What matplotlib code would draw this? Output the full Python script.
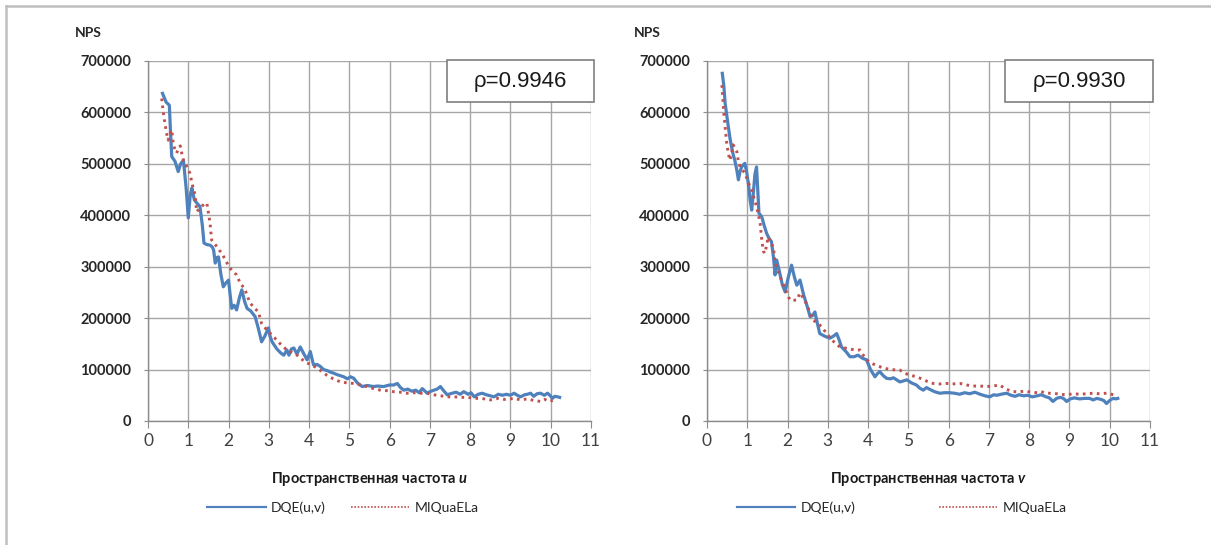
import matplotlib
matplotlib.use("Agg")
import matplotlib.pyplot as plt
from matplotlib.lines import Line2D
from matplotlib.patches import Rectangle

plt.rcParams['font.family'] = ['Lato', 'DejaVu Sans']
plt.rcParams['mathtext.fontset'] = 'custom'
plt.rcParams['mathtext.it'] = 'Lato:italic:bold'
plt.rcParams['mathtext.rm'] = 'Lato:bold'

# ---------------- data (values in thousands) ----------------
u_dqe_x = [0.36, 0.45, 0.53, 0.56, 0.59, 0.67, 0.75, 0.81, 0.88, 0.95, 1.0, 1.05, 1.09, 1.15, 1.21,
           1.29, 1.35, 1.39, 1.46, 1.54, 1.6, 1.63, 1.67, 1.71, 1.75, 1.81, 1.87, 1.93, 2.0, 2.04,
           2.08, 2.14, 2.2, 2.27, 2.33, 2.4, 2.46, 2.55, 2.66, 2.74, 2.82, 2.9, 2.99, 3.03, 3.08,
           3.2, 3.3, 3.37, 3.45, 3.5, 3.56, 3.62, 3.7, 3.78, 3.86, 3.95, 4.03, 4.11, 4.2, 4.28,
           4.36, 4.45, 4.53, 4.61, 4.7, 4.78, 4.86, 4.95, 5.03, 5.11, 5.2, 5.32, 5.45, 5.6, 5.7,
           5.85, 6.0, 6.1, 6.19, 6.27, 6.35, 6.45, 6.55, 6.65, 6.73, 6.81, 6.88, 6.93, 7.0, 7.1,
           7.18, 7.26, 7.35, 7.43, 7.55, 7.65, 7.75, 7.84, 7.95, 8.02, 8.1, 8.2, 8.3, 8.4, 8.5,
           8.59, 8.7, 8.8, 8.9, 9.0, 9.09, 9.17, 9.25, 9.35, 9.42, 9.5, 9.58, 9.66, 9.75, 9.84,
           9.92, 9.98, 10.04, 10.1, 10.17, 10.22]
u_dqe_y = [637, 620, 614, 560, 514, 505, 485, 500, 507, 450, 395, 440, 453, 430, 424,
           417, 380, 346, 343, 342, 338, 332, 307, 318, 319, 285, 261, 268, 274, 245,
           219, 225, 216, 240, 255, 232, 219, 214, 203, 180, 154, 165, 181, 165, 154,
           140, 132, 128, 138, 128, 140, 142, 130, 144, 132, 119, 135, 109, 110, 106,
           100, 98, 95, 93, 90, 88, 86, 82, 86, 83, 74, 67, 69, 67, 68,
           67, 70, 70, 73, 65, 60, 62, 58, 60, 55, 63, 58, 54, 57, 60,
           62, 67, 58, 51, 54, 56, 52, 57, 52, 55, 47, 52, 54, 51, 49,
           47, 52, 50, 52, 50, 54, 50, 47, 51, 52, 54, 48, 53, 54, 50,
           54, 50, 44, 48, 47, 46]

u_miq_x = [0.34, 0.38, 0.42, 0.46, 0.5, 0.55, 0.59, 0.63, 0.67, 0.71, 0.76, 0.8, 0.84, 0.88, 0.96,
           1.04, 1.1, 1.17, 1.21, 1.3, 1.4, 1.46, 1.5, 1.54, 1.58, 1.65, 1.71, 1.77, 1.83, 1.94,
           2.04, 2.12, 2.2, 2.29, 2.35, 2.41, 2.48, 2.54, 2.64, 2.74, 2.82, 2.95, 3.08, 3.2, 3.32,
           3.45, 3.58, 3.7, 3.82, 3.95, 4.08, 4.2, 4.32, 4.44, 4.6, 4.78, 4.95, 5.11, 5.28, 5.44,
           5.6, 5.77, 5.93, 6.1, 6.27, 6.43, 6.6, 6.77, 6.93, 7.1, 7.27, 7.43, 7.6, 7.77, 7.93,
           8.1, 8.27, 8.43, 8.51, 8.7, 8.85, 9.0, 9.1, 9.25, 9.42, 9.58, 9.75, 9.85, 9.96, 10.05]
u_miq_y = [627, 600, 579, 560, 546, 560, 566, 537, 528, 521, 530, 535, 520, 507, 495,
           482, 460, 439, 407, 415, 422, 424, 405, 385, 352, 345, 339, 332, 327, 310,
           297, 290, 284, 268, 262, 255, 240, 229, 220, 212, 190, 177, 167, 157, 147,
           138, 133, 128, 120, 113, 108, 103, 96, 89, 82, 76, 74, 73, 70, 67,
           63, 60, 59, 57, 56, 54, 55, 54, 54, 51, 49, 47, 47, 46, 46,
           44, 44, 42, 41, 44, 42, 43, 44, 41, 43, 40, 38, 42, 38, 40]

v_dqe_x = [0.38, 0.42, 0.45, 0.49, 0.53, 0.57, 0.61, 0.65, 0.69, 0.74, 0.78, 0.82, 0.86, 0.9, 0.94,
           0.99, 1.03, 1.07, 1.11, 1.15, 1.19, 1.23, 1.26, 1.29, 1.36, 1.42, 1.48, 1.54, 1.6, 1.65,
           1.69, 1.73, 1.8, 1.87, 1.94, 2.02, 2.1, 2.17, 2.23, 2.31, 2.4, 2.48, 2.56, 2.62, 2.68,
           2.74, 2.8, 2.92, 3.05, 3.14, 3.22, 3.28, 3.34, 3.45, 3.55, 3.65, 3.75, 3.86, 3.96, 4.06,
           4.17, 4.23, 4.29, 4.38, 4.46, 4.55, 4.63, 4.71, 4.79, 4.88, 4.96, 5.08, 5.2, 5.28, 5.37,
           5.45, 5.52, 5.65, 5.78, 5.9, 6.02, 6.15, 6.27, 6.4, 6.52, 6.65, 6.78, 6.9, 7.02, 7.12,
           7.2, 7.3, 7.44, 7.55, 7.65, 7.75, 7.86, 7.96, 8.08, 8.2, 8.3, 8.42, 8.5, 8.59, 8.68,
           8.77, 8.85, 8.93, 9.02, 9.12, 9.25, 9.38, 9.5, 9.59, 9.68, 9.78, 9.85, 9.92, 10.0, 10.08,
           10.15, 10.2]
v_dqe_y = [676, 650, 618, 595, 572, 550, 533, 518, 507, 488, 469, 485, 494, 498, 501,
           482, 460, 430, 410, 443, 480, 494, 450, 404, 397, 380, 365, 355, 349, 319,
           284, 313, 290, 265, 251, 280, 303, 280, 264, 274, 245, 225, 203, 205, 212,
           190, 170, 165, 161, 165, 170, 158, 144, 135, 125, 125, 128, 122, 119, 100,
           86, 92, 96, 88, 83, 82, 84, 80, 76, 78, 80, 74, 70, 64, 60,
           65, 62, 57, 54, 55, 55, 54, 52, 55, 53, 56, 52, 49, 47, 51,
           50, 52, 54, 50, 48, 51, 49, 50, 47, 49, 51, 47, 45, 38, 44,
           46, 44, 38, 43, 45, 43, 44, 44, 41, 44, 42, 40, 34, 40, 44,
           43, 44]

v_miq_x = [0.37, 0.39, 0.41, 0.45, 0.49, 0.53, 0.57, 0.61, 0.65, 0.7, 0.74, 0.78, 0.82, 0.88, 0.94,
           1.02, 1.11, 1.17, 1.23, 1.28, 1.32, 1.36, 1.4, 1.44, 1.48, 1.52, 1.58, 1.65, 1.69, 1.77,
           1.85, 1.95, 2.06, 2.15, 2.23, 2.31, 2.4, 2.48, 2.56, 2.64, 2.75, 2.85, 2.97, 3.1, 3.2,
           3.3, 3.42, 3.55, 3.68, 3.8, 3.88, 3.96, 4.06, 4.17, 4.28, 4.38, 4.5, 4.6, 4.7, 4.79,
           4.9, 5.05, 5.2, 5.33, 5.47, 5.62, 5.78, 5.95, 6.1, 6.28, 6.45, 6.6, 6.78, 6.94, 7.1,
           7.27, 7.42, 7.6, 7.75, 7.9, 8.05, 8.2, 8.3, 8.43, 8.6, 8.76, 8.93, 9.1, 9.25, 9.42,
           9.59, 9.75, 9.92, 10.0, 10.09]
v_miq_y = [653, 630, 605, 572, 540, 520, 507, 520, 537, 530, 524, 505, 494, 488, 482,
           465, 449, 433, 417, 400, 384, 352, 330, 326, 342, 358, 345, 339, 307, 290,
           274, 255, 235, 235, 235, 249, 238, 226, 210, 196, 190, 183, 170, 158, 150,
           144, 142, 140, 138, 138, 128, 119, 114, 109, 106, 103, 101, 100, 99, 99,
           93, 89, 86, 82, 77, 73, 72, 73, 72, 73, 70, 68, 68, 67, 68,
           70, 62, 57, 57, 58, 56, 55, 57, 54, 54, 52, 51, 53, 52, 53,
           54, 53, 54, 53, 51]

rho_labels = ["ρ=0.9946", "ρ=0.9930"]
axis_names = ["u", "v"]
legend_names = ["DQE(u,v)", "MIQuaELa"]
y_ticks = [0, 100000, 200000, 300000, 400000, 500000, 600000, 700000]
x_ticks = list(range(0, 12))

BLUE = "#4F81BD"
RED = "#C0504D"
GRID = "#A6A6A6"

W, H = 1211, 545
fig = plt.figure(figsize=(W / 100, H / 100), dpi=100)

# outer frame of the picture (top and left edges only are visible)
fig.lines.append(Line2D([6 / W, 1.0], [1 - 6 / H, 1 - 6 / H], transform=fig.transFigure,
                        color="#BFBFBF", linewidth=1.8))
fig.lines.append(Line2D([6 / W, 6 / W], [0.0, 1 - 6 / H], transform=fig.transFigure,
                        color="#BFBFBF", linewidth=1.8))


def draw_panel(left_px, curves, rho, name, box_px, legend_gap):
    ax = fig.add_axes([left_px / W, 1 - 421 / H, 443 / W, 360 / H])
    (dx, dy), (mx, my) = curves
    ax.plot(dx, [v * 1000 for v in dy], color=BLUE, linewidth=2.3, zorder=3)
    ax.plot(mx, [v * 1000 for v in my], color=RED, linewidth=2.1,
            linestyle=(0, (0.9, 1.5)), zorder=4)
    ax.set_xlim(0, 11)
    ax.set_ylim(0, 700000)
    ax.set_xticks(x_ticks)
    ax.set_yticks(y_ticks)
    ax.set_yticklabels([str(t) for t in y_ticks], fontsize=10.5, fontweight="bold", color="#262626")
    ax.set_xticklabels([str(t) for t in x_ticks], fontsize=12.5, color="#404040")
    ax.grid(True, color=GRID, linewidth=1.0)
    ax.set_axisbelow(True)
    for s in ["top", "right"]:
        ax.spines[s].set_visible(False)
    for s in ["left", "bottom"]:
        ax.spines[s].set_color("#8C8C8C")
        ax.spines[s].set_linewidth(1.0)
    ax.tick_params(axis="x", length=5, color="#8C8C8C", pad=4)
    ax.tick_params(axis="y", length=3, color="#8C8C8C", pad=9)
    ax.set_xlabel("Пространственная частота $" + name + "$", fontsize=10.5,
                  fontweight="bold", color="#1a1a1a", labelpad=15)

    # NPS title
    fig.text((left_px - 60) / W, 1 - 33 / H, "NPS", fontsize=10, fontweight="bold",
             color="#262626", ha="center", va="center")

    # correlation box
    bx0, bx1 = box_px
    fig.patches.append(Rectangle((bx0 / W, 1 - 102 / H), (bx1 - bx0) / W, 42 / H,
                                 transform=fig.transFigure, facecolor="white",
                                 edgecolor="#7F7F7F", linewidth=1.2, zorder=5))
    fig.text((bx0 + bx1) / 2 / W, 1 - 81 / H, rho, fontsize=16, family="Liberation Sans",
             color="#1a1a1a", ha="center", va="center", zorder=6)

    handles = [Line2D([], [], color=BLUE, linewidth=1.6),
               Line2D([], [], color=RED, linewidth=1.2, linestyle=(0, (1, 1)))]
    fig.legend(handles, legend_names, loc="center",
               bbox_to_anchor=((left_px + 195) / W, 1 - 508 / H), ncol=2, frameon=False,
               fontsize=10, handlelength=4.2, columnspacing=legend_gap, handletextpad=0.4,
               labelcolor="#262626")
    return ax


draw_panel(148, ((u_dqe_x, u_dqe_y), (u_miq_x, u_miq_y)), rho_labels[0], axis_names[0],
           (447, 594), 1.8)
draw_panel(707, ((v_dqe_x, v_dqe_y), (v_miq_x, v_miq_y)), rho_labels[1], axis_names[1],
           (1005, 1153), 6.0)

fig.savefig("out.png", dpi=100)
